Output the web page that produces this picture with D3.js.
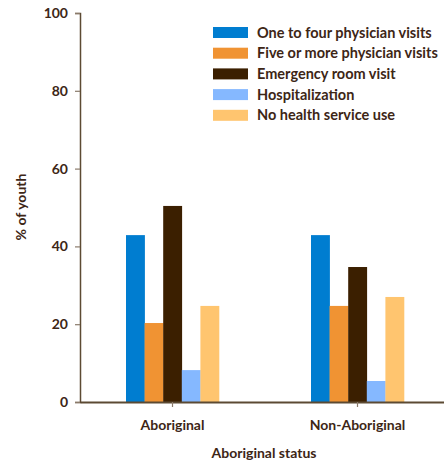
<!DOCTYPE html>
<html><head><meta charset="utf-8">
<script src="https://cdn.jsdelivr.net/npm/d3@7"></script>
<style>body{margin:0;background:#fff}svg text{font-family:Lato,"Open Sans",sans-serif;font-weight:bold;fill:#3d2616}</style>
</head><body><svg id="c" width="444" height="464"></svg>
<script>
const categories = ["Aboriginal", "Non-Aboriginal"];
const seriesNames = ["One to four physician visits", "Five or more physician visits", "Emergency room visit", "Hospitalization", "No health service use"];
const aboriginal = [42.9, 20.3, 50.4, 8.2, 24.7];
const nonAboriginal = [42.9, 24.7, 34.7, 5.4, 27.0];
const colors = ["#007dd0", "#f09333", "#3b1f00", "#85b8ff", "#ffc56f"];
const yTicks = [0, 20, 40, 60, 80, 100];
const values = [aboriginal, nonAboriginal];

(function(){
const svg = d3.select("#c");
const mLeft = 80, mRight = 450, mTop = 13, mBottom = 402;
const x = d3.scaleBand().domain(categories).range([mLeft, mRight]);
const y = d3.scaleLinear().domain([0, 100]).range([mBottom, mTop]);
const inner = d3.scaleBand().domain(seriesNames).range([0, 93]);
const axisColor = "#5c4a33";
const fs = 14;

categories.forEach((c, ci) => {
  const g = svg.append("g").attr("transform", `translate(${x(c) + x.bandwidth()/2 - 46.5},0)`);
  g.selectAll("rect").data(values[ci]).join("rect")
    .attr("x", (d, i) => inner(seriesNames[i]))
    .attr("width", inner.bandwidth() + 0.3)
    .attr("y", d => y(d))
    .attr("height", d => y(0) - y(d))
    .attr("fill", (d, i) => colors[i]);
});

const ya = svg.append("g").attr("transform", `translate(${mLeft},0)`)
  .call(d3.axisLeft(y).tickValues(yTicks).tickSize(5).tickPadding(7));
ya.select(".domain").attr("stroke", axisColor).attr("stroke-width", 1.5);
ya.selectAll(".tick line").attr("stroke", "#8a7a6a").attr("stroke-width", 1.2);
ya.selectAll("text").attr("font-size", fs).style("font-family", "Lato, sans-serif").style("font-weight", "bold").attr("fill", "#3d2616");

const xa = svg.append("g").attr("transform", `translate(0,${mBottom})`)
  .call(d3.axisBottom(x).tickSize(5).tickSizeOuter(0).tickPadding(13));
xa.select(".domain").attr("stroke", axisColor).attr("stroke-width", 2);
xa.selectAll(".tick line").attr("stroke", "#8a7a6a").attr("stroke-width", 1.2);
xa.selectAll("text").attr("font-size", fs).style("font-family", "Lato, sans-serif").style("font-weight", "bold").attr("fill", "#3d2616");

svg.append("text").attr("transform", "translate(26,207) rotate(-90)").attr("text-anchor", "middle")
  .attr("font-size", fs).text("% of youth");
svg.append("text").attr("x", 264).attr("y", 458).attr("text-anchor", "middle")
  .attr("font-size", fs).text("Aboriginal status");

const lg = svg.append("g").attr("transform", "translate(213,27)");
seriesNames.forEach((s, i) => {
  lg.append("rect").attr("x", 0).attr("y", i * 20.7).attr("width", 35).attr("height", 11).attr("fill", colors[i]);
  lg.append("text").attr("x", 44).attr("y", i * 20.7 + 10.5).attr("font-size", 14.5).text(s);
});
})();
</script></body></html>
